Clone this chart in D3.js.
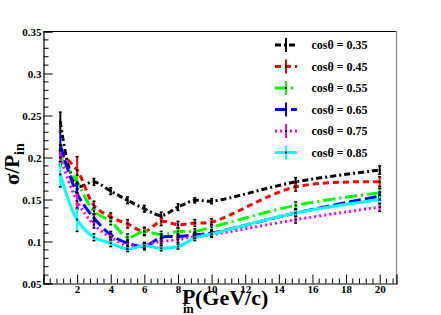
<!DOCTYPE html>
<html><head><meta charset="utf-8">
<script src="https://cdn.jsdelivr.net/npm/d3@7"></script>
<style>body{margin:0;background:#fff}svg{display:block}</style>
</head><body>
<svg id="c" width="441" height="315"></svg>
<script>
const momenta = [1,2,3,4,5,6,7,8,9,10,15,20];
const labels = ["cos\u03b8 = 0.35","cos\u03b8 = 0.45","cos\u03b8 = 0.55","cos\u03b8 = 0.65","cos\u03b8 = 0.75","cos\u03b8 = 0.85"];
const s035 = [0.243,0.166,0.171,0.160,0.149,0.139,0.131,0.141,0.149,0.148,0.171,0.185];
const s045 = [0.205,0.185,0.143,0.129,0.121,0.112,0.124,0.120,0.122,0.123,0.165,0.171];
const s055 = [0.200,0.171,0.136,0.124,0.105,0.112,0.108,0.112,0.112,0.117,0.143,0.158];
const s065 = [0.215,0.157,0.128,0.108,0.098,0.094,0.105,0.106,0.108,0.110,0.134,0.154];
const s075 = [0.200,0.148,0.120,0.105,0.095,0.096,0.100,0.102,0.106,0.108,0.126,0.141];
const s085 = [0.180,0.126,0.105,0.098,0.091,0.095,0.092,0.094,0.104,0.109,0.134,0.150];
const e035 = [0.011,0.004,0.004,0.004,0.004,0.004,0.004,0.004,0.003,0.003,0.005,0.005];
const e045 = [0.010,0.016,0.005,0.005,0.005,0.005,0.005,0.004,0.004,0.004,0.005,0.006];
const e055 = [0.010,0.008,0.004,0.004,0.004,0.004,0.004,0.004,0.003,0.003,0.004,0.005];
const e065 = [0.015,0.012,0.005,0.004,0.004,0.004,0.004,0.003,0.003,0.003,0.004,0.005];
const e075 = [0.008,0.010,0.004,0.004,0.004,0.003,0.003,0.003,0.003,0.003,0.004,0.005];
const e085 = [0.015,0.014,0.004,0.004,0.003,0.003,0.003,0.003,0.003,0.003,0.004,0.005];
const yTicks = [0.05,0.1,0.15,0.2,0.25,0.3,0.35];
const xTicks = [2,4,6,8,10,12,14,16,18,20];

const series = [
  {v:s035,e:e035,color:"#000000",dash:"6,3,2,3"},
  {v:s045,e:e045,color:"#ff0000",dash:"6,4"},
  {v:s055,e:e055,color:"#00ff00",dash:"12,4,2,4"},
  {v:s065,e:e065,color:"#0000ff",dash:"12,4"},
  {v:s075,e:e075,color:"#ff00ff",dash:"2,3"},
  {v:s085,e:e085,color:"#00ffff",dash:null}
];

const svg = d3.select("#c");
const L=43.5,R=396.5,T=31.5,B=283.5;
const x = d3.scaleLinear().domain([0,21]).range([L,R]);
const y = d3.scaleLinear().domain([0.05,0.35]).range([B,T]);
const font = "'Liberation Serif','Times New Roman',serif";

// frame
svg.append("line").attr("x1",L).attr("x2",R).attr("y1",T).attr("y2",T).attr("stroke","#000").attr("stroke-width",1);
svg.append("line").attr("x1",R).attr("x2",R).attr("y1",T).attr("y2",B).attr("stroke","#999").attr("stroke-width",1.5);

// axes
const yAxis = d3.axisLeft(y).tickValues(yTicks).tickSize(-9).tickPadding(3).tickFormat(d=>d3.format("")(+d.toFixed(2)));
const gy = svg.append("g").attr("transform",`translate(${L},0)`).call(yAxis);
const yMinor = d3.range(0.05,0.3501,0.01).map(v=>+v.toFixed(2)).filter(v=>!yTicks.includes(v));
gy.selectAll(".minor").data(yMinor).enter().append("line").attr("class","minor")
  .attr("x1",0).attr("x2",5).attr("y1",d=>y(d)).attr("y2",d=>y(d)).attr("stroke","#000");
const xAxis = d3.axisBottom(x).tickValues(xTicks).tickSize(-9).tickPadding(2);
const gx = svg.append("g").attr("transform",`translate(0,${B})`).call(xAxis);
const xMinor = d3.range(0,21.01,0.4).map(v=>+v.toFixed(1)).filter(v=>!xTicks.includes(v));
gx.selectAll(".minor").data(xMinor).enter().append("line").attr("class","minor")
  .attr("x1",d=>x(d)).attr("x2",d=>x(d)).attr("y1",0).attr("y2",-5).attr("stroke","#000");
[gx,gy].forEach(g=>{
  g.select(".domain").attr("stroke","#000").attr("stroke-width",1.2);
  g.selectAll(".tick line").attr("stroke","#000");
  g.selectAll("text").attr("font-family",font).attr("font-weight","bold").attr("font-size",11).attr("fill","#000");
});
gy.selectAll(".tick text").attr("dx",1);

// curves
const line = d3.line().x((d,i)=>x(momenta[i])).y(d=>y(d)).curve(d3.curveCatmullRom.alpha(0.5));
series.forEach(s=>{
  svg.append("path").attr("d",line(s.v)).attr("fill","none").attr("stroke",s.color)
    .attr("stroke-width",3).attr("stroke-dasharray",s.dash);
});
// error bars and markers
series.forEach(s=>{
  const g = svg.append("g");
  s.v.forEach((v,i)=>{
    const px=x(momenta[i]), lo=y(v-s.e[i]), hi=y(v+s.e[i]);
    g.append("line").attr("x1",px).attr("x2",px).attr("y1",lo).attr("y2",hi).attr("stroke",s.color).attr("stroke-width",2);
    g.append("line").attr("x1",px-1.5).attr("x2",px+1.5).attr("y1",lo).attr("y2",lo).attr("stroke","#000").attr("stroke-width",1.5);
    g.append("line").attr("x1",px-1.5).attr("x2",px+1.5).attr("y1",hi).attr("y2",hi).attr("stroke","#000").attr("stroke-width",1.5);
    g.append("rect").attr("x",px-1).attr("y",y(v)-1).attr("width",2).attr("height",2).attr("fill","#000");
  });
});

// legend
series.forEach((s,i)=>{
  const cy = 45 + i*21.5;
  svg.append("line").attr("x1",275).attr("x2",297).attr("y1",cy).attr("y2",cy).attr("stroke",s.color)
    .attr("stroke-width",3).attr("stroke-dasharray",s.dash);
  svg.append("line").attr("x1",286).attr("x2",286).attr("y1",cy-7).attr("y2",cy+7).attr("stroke",s.color).attr("stroke-width",2);
  svg.append("rect").attr("x",285).attr("y",cy-1).attr("width",2).attr("height",2).attr("fill","#000");
  svg.append("text").attr("x",311.5).attr("y",cy+4).attr("font-family",font).attr("font-weight","bold")
    .attr("font-size",12).attr("fill","#000").text(labels[i]);
});

// axis titles
const yl = svg.append("text").attr("transform","translate(19,185) rotate(-90)")
  .attr("font-family",font).attr("font-weight","bold").attr("font-size",21).attr("fill","#000");
yl.append("tspan").text("\u03c3/P");
yl.append("tspan").attr("dy",5).attr("font-size",14).text("in");
svg.append("text").attr("x",182).attr("y",304).attr("font-family",font).attr("font-weight","bold").attr("font-size",22).text("P");
svg.append("text").attr("x",183).attr("y",313).attr("font-family",font).attr("font-weight","bold").attr("font-size",13).text("in");
svg.append("text").attr("x",195).attr("y",305).attr("font-family",font).attr("font-weight","bold").attr("font-size",22).text("(GeV/c)");
</script>
</body></html>
